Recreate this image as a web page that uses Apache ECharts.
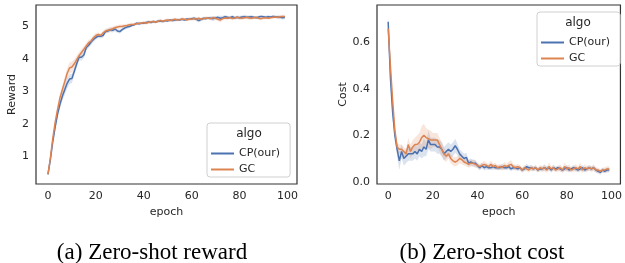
<!DOCTYPE html>
<html>
<head>
<meta charset="utf-8">
<script src="https://cdn.jsdelivr.net/npm/echarts@6/dist/echarts.min.js"></script>
<style>
  html, body { margin: 0; padding: 0; background: #fff; }
  #main { width: 625px; height: 263px; }
</style>
</head>
<body>
<div id="main"></div>
<script>
var epochs = [];
for (var i = 0; i < 100; i++) epochs.push(i);

var xTicks = [0, 20, 40, 60, 80, 100];
var rewardTicks = [1, 2, 3, 4, 5];
var costTicks = [0, 0.2, 0.4, 0.6];

// zero-shot reward, mean per epoch
var cpReward = [0.45,0.9,1.45,1.9,2.3,2.6,2.85,3.05,3.25,3.38,3.4,3.62,3.85,4.05,4.05,4.12,4.35,4.42,4.52,4.6,
  4.66,4.7,4.7,4.72,4.84,4.86,4.9,4.88,4.92,4.86,4.84,4.9,4.95,4.98,5.0,5.03,5.05,5.1,5.08,5.1,
  5.1,5.12,5.14,5.12,5.15,5.14,5.16,5.17,5.15,5.18,5.17,5.2,5.18,5.2,5.21,5.2,5.22,5.2,5.23,5.22,
  5.24,5.25,5.22,5.18,5.22,5.25,5.24,5.26,5.25,5.24,5.26,5.28,5.25,5.27,5.3,5.28,5.27,5.3,5.26,5.28,
  5.27,5.29,5.3,5.28,5.29,5.3,5.28,5.27,5.29,5.31,5.3,5.28,5.3,5.29,5.31,5.3,5.29,5.28,5.27,5.28];
var gcReward = [0.45,0.95,1.55,2.05,2.45,2.8,3.05,3.3,3.55,3.72,3.75,3.85,3.98,4.1,4.2,4.3,4.4,4.5,4.55,4.65,
  4.72,4.75,4.72,4.8,4.86,4.88,4.9,4.93,4.96,4.98,5.0,5.0,5.02,5.03,5.05,5.06,5.06,5.08,5.1,5.1,
  5.12,5.1,5.13,5.14,5.15,5.13,5.16,5.18,5.16,5.18,5.2,5.18,5.2,5.22,5.2,5.21,5.23,5.22,5.2,5.23,
  5.22,5.24,5.23,5.25,5.22,5.24,5.26,5.25,5.24,5.27,5.25,5.22,5.2,5.24,5.26,5.25,5.27,5.24,5.26,5.28,
  5.26,5.25,5.27,5.28,5.26,5.25,5.27,5.28,5.25,5.24,5.26,5.27,5.25,5.27,5.28,5.29,5.28,5.3,5.31,5.3];
// half width of the shaded band
var cpRewardSd = [0.04,0.06,0.08,0.09,0.1,0.12,0.14,0.15,0.16,0.15,0.14,0.12,0.12,0.1,0.1,0.09,0.09,0.08,0.08,0.07,
  0.07,0.06,0.06,0.07,0.06,0.06,0.06,0.07,0.07,0.06,0.06,0.05,0.05,0.05,0.05,0.04,0.04,0.04,0.04,0.04,
  0.04,0.04,0.05,0.04,0.04,0.04,0.05,0.04,0.04,0.04,0.04,0.04,0.04,0.05,0.04,0.04,0.04,0.04,0.04,0.04,
  0.05,0.05,0.06,0.06,0.05,0.05,0.05,0.04,0.06,0.07,0.06,0.05,0.08,0.06,0.05,0.05,0.04,0.05,0.05,0.05,
  0.06,0.05,0.07,0.06,0.05,0.05,0.04,0.05,0.05,0.04,0.04,0.05,0.05,0.04,0.04,0.04,0.05,0.05,0.06,0.06];
var gcRewardSd = [0.04,0.06,0.07,0.08,0.1,0.11,0.12,0.14,0.16,0.17,0.16,0.13,0.12,0.11,0.1,0.1,0.09,0.09,0.08,0.08,
  0.07,0.07,0.06,0.06,0.07,0.07,0.08,0.07,0.07,0.06,0.06,0.06,0.05,0.05,0.05,0.05,0.05,0.04,0.05,0.04,
  0.04,0.05,0.05,0.04,0.05,0.04,0.04,0.05,0.04,0.04,0.05,0.04,0.05,0.05,0.04,0.04,0.05,0.04,0.04,0.05,
  0.04,0.05,0.04,0.05,0.05,0.04,0.05,0.04,0.04,0.05,0.05,0.06,0.07,0.06,0.05,0.05,0.05,0.06,0.05,0.05,
  0.05,0.06,0.05,0.05,0.06,0.05,0.05,0.04,0.05,0.05,0.05,0.05,0.04,0.05,0.05,0.04,0.05,0.05,0.05,0.05];

// zero-shot cost, mean per epoch
var cpCost = [0.69,0.45,0.3,0.2,0.14,0.09,0.13,0.1,0.11,0.12,0.12,0.12,0.13,0.12,0.14,0.13,0.15,0.14,0.18,0.16,
  0.16,0.16,0.15,0.15,0.14,0.12,0.13,0.14,0.13,0.14,0.155,0.14,0.12,0.11,0.1,0.105,0.08,0.085,0.08,0.08,
  0.07,0.06,0.07,0.06,0.065,0.06,0.06,0.065,0.06,0.06,0.06,0.065,0.06,0.06,0.065,0.055,0.06,0.06,0.055,0.06,
  0.05,0.055,0.065,0.06,0.06,0.055,0.06,0.05,0.055,0.055,0.06,0.055,0.06,0.05,0.06,0.055,0.06,0.055,0.05,0.055,
  0.06,0.05,0.055,0.06,0.055,0.05,0.055,0.06,0.05,0.055,0.06,0.055,0.06,0.05,0.045,0.04,0.05,0.045,0.05,0.05];
var gcCost = [0.66,0.5,0.35,0.22,0.15,0.14,0.14,0.13,0.12,0.16,0.13,0.15,0.16,0.16,0.17,0.19,0.2,0.19,0.185,0.18,
  0.18,0.18,0.18,0.16,0.14,0.12,0.11,0.12,0.1,0.09,0.085,0.09,0.1,0.095,0.085,0.08,0.075,0.08,0.08,0.075,
  0.07,0.065,0.07,0.075,0.07,0.065,0.075,0.065,0.07,0.06,0.065,0.06,0.07,0.065,0.07,0.075,0.065,0.06,0.065,0.06,
  0.05,0.06,0.055,0.05,0.06,0.055,0.06,0.05,0.06,0.055,0.06,0.05,0.065,0.055,0.06,0.05,0.055,0.06,0.05,0.065,
  0.055,0.06,0.05,0.055,0.06,0.055,0.065,0.05,0.06,0.055,0.06,0.055,0.06,0.05,0.05,0.045,0.05,0.05,0.055,0.055];
var cpCostSd = [0.03,0.03,0.03,0.03,0.03,0.04,0.03,0.03,0.03,0.03,0.03,0.03,0.03,0.03,0.03,0.03,0.04,0.03,0.04,0.03,
  0.03,0.03,0.03,0.03,0.03,0.03,0.03,0.03,0.03,0.03,0.03,0.025,0.02,0.02,0.02,0.02,0.015,0.015,0.015,0.015,
  0.012,0.012,0.012,0.012,0.012,0.01,0.01,0.012,0.01,0.01,0.01,0.012,0.01,0.01,0.012,0.01,0.01,0.01,0.01,0.01,
  0.01,0.01,0.012,0.01,0.012,0.01,0.01,0.01,0.01,0.01,0.012,0.01,0.01,0.01,0.012,0.01,0.01,0.01,0.01,0.01,
  0.012,0.01,0.01,0.012,0.01,0.01,0.01,0.012,0.01,0.01,0.012,0.01,0.01,0.01,0.01,0.01,0.01,0.01,0.01,0.01];
var gcCostSd = [0.02,0.03,0.03,0.03,0.02,0.02,0.02,0.02,0.02,0.03,0.03,0.03,0.03,0.04,0.04,0.05,0.05,0.04,0.04,0.04,
  0.03,0.03,0.03,0.03,0.03,0.025,0.025,0.02,0.02,0.02,0.02,0.02,0.02,0.02,0.015,0.015,0.015,0.015,0.015,0.015,
  0.012,0.012,0.012,0.015,0.012,0.012,0.015,0.012,0.012,0.012,0.012,0.012,0.015,0.012,0.015,0.018,0.012,0.012,0.012,0.012,
  0.01,0.012,0.01,0.01,0.012,0.01,0.012,0.01,0.012,0.012,0.015,0.012,0.018,0.012,0.012,0.01,0.012,0.015,0.012,0.018,
  0.012,0.015,0.01,0.012,0.015,0.012,0.018,0.012,0.015,0.012,0.012,0.012,0.015,0.012,0.01,0.01,0.01,0.012,0.012,0.012];

var blue = '#4c72b0';
var orange = '#dd8452';
var textColor = '#262626';
var tickFont = 'DejaVu Sans';

function pairs(vals) {
  return vals.map(function (v, i) { return [epochs[i], v]; });
}

// shaded band as one polygon, points mapped through the axes
function bandSeries(idx, mean, sd, color) {
  var rows = mean.map(function (v, i) { return [epochs[i], v - sd[i], v + sd[i]]; });
  return {
    type: 'custom', xAxisIndex: idx, yAxisIndex: idx, data: rows, silent: true, z: 1, clip: true,
    encode: { x: 0, y: [1, 2] },
    renderItem: function (params, api) {
      if (params.dataIndex !== 0) return null;
      var pts = [];
      rows.forEach(function (r) { pts.push(api.coord([r[0], r[2]])); });
      for (var k = rows.length - 1; k >= 0; k--) pts.push(api.coord([rows[k][0], rows[k][1]]));
      return {
        type: 'polygon',
        shape: { points: pts },
        style: { fill: color, opacity: 0.2 }
      };
    }
  };
}

function meanSeries(idx, name, mean, color) {
  return { name: name, type: 'line', xAxisIndex: idx, yAxisIndex: idx, data: pairs(mean),
    symbol: 'none', lineStyle: { color: color, width: 1.5 }, itemStyle: { color: color }, z: 3 };
}

function xAxisFor(idx) {
  return {
    type: 'value', gridIndex: idx, min: -5, max: 104,
    name: 'epoch', nameLocation: 'middle', nameGap: 19,
    nameTextStyle: { fontFamily: tickFont, fontSize: 11, color: textColor },
    axisLine: { show: false }, axisTick: { show: false }, splitLine: { show: false },
    axisLabel: { customValues: xTicks, fontFamily: tickFont, fontSize: 11, color: textColor, margin: 7 }
  };
}

function legendFor(left, top) {
  return {
    data: ['CP(our)', 'GC'], orient: 'vertical', left: left, top: top, icon: 'rect',
    padding: [25, 10, 2, 4], itemWidth: 23, itemHeight: 2, itemGap: 5, itemTextGap: 9,
    borderColor: '#d0d0d0', borderWidth: 1, borderRadius: 3, backgroundColor: 'rgba(255,255,255,0.8)',
    textStyle: { fontFamily: tickFont, fontSize: 11, color: textColor },
    selectedMode: false
  };
}

var myChart = echarts.init(document.getElementById('main'), null, { renderer: 'canvas' });

var option = {
  animation: false,
  backgroundColor: '#fff',
  grid: [
    { left: 36, top: 5, width: 261, height: 179, show: true, borderColor: '#333', borderWidth: 1.2 },
    { left: 377, top: 5, width: 251, height: 179, show: true, borderColor: '#333', borderWidth: 1.2 }
  ],
  xAxis: [xAxisFor(0), xAxisFor(1)],
  yAxis: [
    { type: 'value', gridIndex: 0, min: 0.15, max: 5.66,
      name: 'Reward', nameLocation: 'middle', nameGap: 18,
      nameTextStyle: { fontFamily: tickFont, fontSize: 11, color: textColor },
      axisLine: { show: false }, axisTick: { show: false }, splitLine: { show: false },
      axisLabel: { customValues: rewardTicks, fontFamily: tickFont, fontSize: 11, color: textColor, margin: 7 } },
    { type: 'value', gridIndex: 1, min: -0.01, max: 0.762,
      name: 'Cost', nameLocation: 'middle', nameGap: 28,
      nameTextStyle: { fontFamily: tickFont, fontSize: 11, color: textColor },
      axisLine: { show: false }, axisTick: { show: false }, splitLine: { show: false },
      axisLabel: { customValues: costTicks, fontFamily: tickFont, fontSize: 11, color: textColor, margin: 7,
        formatter: function (v) { return v.toFixed(1); } } }
  ],
  legend: [legendFor(207, 123), legendFor(537, 12)],
  graphic: [
    { type: 'text', x: 249, y: 134, z: 100,
      style: { text: 'algo', fontFamily: tickFont, fontSize: 12, fill: textColor, textAlign: 'center', textVerticalAlign: 'middle' } },
    { type: 'text', x: 578, y: 23, z: 100,
      style: { text: 'algo', fontFamily: tickFont, fontSize: 12, fill: textColor, textAlign: 'center', textVerticalAlign: 'middle' } },
    { type: 'text', x: 152, y: 253,
      style: { text: '(a) Zero-shot reward', fontFamily: 'Liberation Serif', fontSize: 23, fill: '#000', textAlign: 'center', textVerticalAlign: 'middle' } },
    { type: 'text', x: 482, y: 253,
      style: { text: '(b) Zero-shot cost', fontFamily: 'Liberation Serif', fontSize: 23, fill: '#000', textAlign: 'center', textVerticalAlign: 'middle' } }
  ],
  series: [
    bandSeries(0, cpReward, cpRewardSd, blue),
    bandSeries(0, gcReward, gcRewardSd, orange),
    bandSeries(1, cpCost, cpCostSd, blue),
    bandSeries(1, gcCost, gcCostSd, orange),
    meanSeries(0, 'CP(our)', cpReward, blue),
    meanSeries(0, 'GC', gcReward, orange),
    meanSeries(1, 'CP(our)', cpCost, blue),
    meanSeries(1, 'GC', gcCost, orange)
  ]
};

myChart.setOption(option);
</script>
</body>
</html>
